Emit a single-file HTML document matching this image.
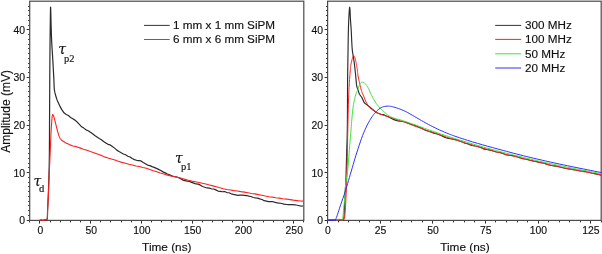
<!DOCTYPE html>
<html><head><meta charset="utf-8"><style>
html,body{margin:0;padding:0;background:#fff;}
body{width:602px;height:254px;overflow:hidden;}
svg{display:block;}
text{stroke:#111;stroke-width:0.15px;}
.tk{font-family:'Liberation Sans', Arial, sans-serif;font-size:10.4px;fill:#111;}
.ax{font-family:'Liberation Sans', Arial, sans-serif;font-size:11.8px;fill:#111;}
.ay{font-family:'Liberation Sans', Arial, sans-serif;font-size:12px;fill:#111;}
.lg{font-family:'Liberation Sans', Arial, sans-serif;font-size:11.7px;fill:#111;}
.tau{font-family:'DejaVu Serif','Liberation Serif', 'Times New Roman', serif;font-style:italic;font-size:14px;fill:#111;}
.sub{font-family:'Liberation Serif', 'Times New Roman', serif;font-size:10.5px;fill:#111;}
</style></head><body>
<svg width="602" height="254" viewBox="0 0 602 254">
<rect width="602" height="254" fill="#fff"/>
<g fill="none" stroke="#4a4a4a" stroke-width="1.2">
<rect x="29.7" y="1.2" width="274.1" height="219.20000000000002"/>
<rect x="327.6" y="1.2" width="273.6" height="219.20000000000002"/>
</g>
<path d="M29.20,220.50H26.70M29.20,215.50H28.10M29.20,210.50H28.10M29.20,205.50H28.10M29.20,201.50H28.10M29.20,196.50H28.10M29.20,191.50H28.10M29.20,186.50H28.10M29.20,182.50H28.10M29.20,177.50H28.10M29.20,172.50H26.70M29.20,167.50H28.10M29.20,163.50H28.10M29.20,158.50H28.10M29.20,153.50H28.10M29.20,148.50H28.10M29.20,144.50H28.10M29.20,139.50H28.10M29.20,134.50H28.10M29.20,129.50H28.10M29.20,125.50H26.70M29.20,120.50H28.10M29.20,115.50H28.10M29.20,110.50H28.10M29.20,105.50H28.10M29.20,101.50H28.10M29.20,96.50H28.10M29.20,91.50H28.10M29.20,86.50H28.10M29.20,82.50H28.10M29.20,77.50H26.70M29.20,72.50H28.10M29.20,67.50H28.10M29.20,63.50H28.10M29.20,58.50H28.10M29.20,53.50H28.10M29.20,48.50H28.10M29.20,44.50H28.10M29.20,39.50H28.10M29.20,34.50H28.10M29.20,29.50H26.70M29.20,25.50H28.10M29.20,20.50H28.10M29.20,15.50H28.10M29.20,10.50H28.10M29.20,6.50H28.10M327.10,220.50H324.60M327.10,215.50H326.00M327.10,210.50H326.00M327.10,205.50H326.00M327.10,201.50H326.00M327.10,196.50H326.00M327.10,191.50H326.00M327.10,186.50H326.00M327.10,182.50H326.00M327.10,177.50H326.00M327.10,172.50H324.60M327.10,167.50H326.00M327.10,163.50H326.00M327.10,158.50H326.00M327.10,153.50H326.00M327.10,148.50H326.00M327.10,144.50H326.00M327.10,139.50H326.00M327.10,134.50H326.00M327.10,129.50H326.00M327.10,125.50H324.60M327.10,120.50H326.00M327.10,115.50H326.00M327.10,110.50H326.00M327.10,105.50H326.00M327.10,101.50H326.00M327.10,96.50H326.00M327.10,91.50H326.00M327.10,86.50H326.00M327.10,82.50H326.00M327.10,77.50H324.60M327.10,72.50H326.00M327.10,67.50H326.00M327.10,63.50H326.00M327.10,58.50H326.00M327.10,53.50H326.00M327.10,48.50H326.00M327.10,44.50H326.00M327.10,39.50H326.00M327.10,34.50H326.00M327.10,29.50H324.60M327.10,25.50H326.00M327.10,20.50H326.00M327.10,15.50H326.00M327.10,10.50H326.00M327.10,6.50H326.00M29.50,220.90V222.40M39.50,220.90V223.60M50.50,220.90V222.40M60.50,220.90V222.40M70.50,220.90V222.40M80.50,220.90V222.40M90.50,220.90V223.60M100.50,220.90V222.40M110.50,220.90V222.40M121.50,220.90V222.40M131.50,220.90V222.40M141.50,220.90V223.60M151.50,220.90V222.40M161.50,220.90V222.40M171.50,220.90V222.40M181.50,220.90V222.40M192.50,220.90V223.60M202.50,220.90V222.40M212.50,220.90V222.40M222.50,220.90V222.40M232.50,220.90V222.40M242.50,220.90V223.60M253.50,220.90V222.40M263.50,220.90V222.40M273.50,220.90V222.40M283.50,220.90V222.40M293.50,220.90V223.60M303.50,220.90V222.40M327.50,220.90V223.60M338.50,220.90V222.40M348.50,220.90V222.40M359.50,220.90V222.40M369.50,220.90V222.40M380.50,220.90V223.60M390.50,220.90V222.40M401.50,220.90V222.40M411.50,220.90V222.40M422.50,220.90V222.40M432.50,220.90V223.60M443.50,220.90V222.40M453.50,220.90V222.40M464.50,220.90V222.40M474.50,220.90V222.40M485.50,220.90V223.60M495.50,220.90V222.40M506.50,220.90V222.40M517.50,220.90V222.40M527.50,220.90V222.40M538.50,220.90V223.60M548.50,220.90V222.40M559.50,220.90V222.40M569.50,220.90V222.40M580.50,220.90V222.40M590.50,220.90V223.60M601.50,220.90V222.40" fill="none" stroke="#333" stroke-width="1"/>
<g fill="none" stroke-linejoin="round" stroke-linecap="butt">
<path d="M39.70,220.40 39.91,220.35 40.12,220.28 40.33,220.22 40.54,220.17 40.77,220.13 41.00,220.10 41.31,220.10 41.63,220.14 41.96,220.20 42.31,220.26 42.65,220.30 43.00,220.30 43.38,220.25 43.78,220.17 44.19,220.06 44.58,219.95 44.96,219.86 45.30,219.80 45.53,219.79 45.75,219.81 45.96,219.84 46.16,219.86 46.34,219.85 46.50,219.80 46.63,219.72 46.74,219.63 46.84,219.52 46.93,219.38 47.02,219.21 47.10,219.00 47.30,218.10 47.41,216.82 47.47,215.26 47.50,213.54 47.54,211.75 47.60,210.00 47.72,207.72 47.84,205.28 47.96,202.74 48.08,200.14 48.19,197.54 48.30,195.00 48.40,192.50 48.49,190.00 48.57,187.50 48.65,185.00 48.72,182.50 48.80,180.00 48.87,177.50 48.95,175.00 49.02,172.50 49.09,170.00 49.15,167.50 49.20,165.00 49.25,162.58 49.28,160.27 49.32,157.95 49.35,155.53 49.37,152.92 49.40,150.00 49.44,144.50 49.48,138.26 49.51,131.48 49.53,124.38 49.56,117.15 49.60,110.00 49.64,101.84 49.69,93.28 49.74,84.55 49.79,75.93 49.84,67.66 49.90,60.00 49.94,54.51 49.99,49.29 50.04,44.27 50.09,39.42 50.14,34.68 50.20,30.00 50.26,25.46 50.32,20.40 50.38,15.43 50.45,11.15 50.52,8.14 50.60,7.00 50.67,7.94 50.75,10.39 50.84,13.85 50.92,17.79 51.01,21.68 51.10,25.00 51.18,27.55 51.25,30.02 51.32,32.45 51.39,34.89 51.49,37.39 51.60,40.00 51.76,43.17 51.95,46.45 52.16,49.82 52.38,53.23 52.60,56.63 52.80,60.00 53.00,63.42 53.20,66.96 53.39,70.49 53.58,73.92 53.75,77.12 53.90,80.00 53.97,81.73 54.02,83.36 54.05,84.88 54.10,86.32 54.18,87.69 54.30,89.00 54.42,89.94 54.55,90.81 54.70,91.63 54.87,92.45 55.07,93.30 55.30,94.20 55.64,95.43 56.03,96.73 56.46,98.07 56.92,99.42 57.40,100.72 59.60,105.60 61.80,109.65 64.00,112.84 66.20,114.46 68.40,115.56 70.60,117.44 72.80,118.78 75.00,120.13 77.20,122.07 79.40,124.45 81.60,126.84 83.80,128.10 86.00,129.84 88.20,130.73 90.40,132.24 92.60,133.79 94.80,135.51 97.00,137.06 99.20,138.40 101.40,139.66 103.60,141.43 105.80,142.90 108.00,144.33 110.20,144.93 112.40,146.56 114.60,148.13 116.80,150.12 119.00,151.46 121.20,152.78 123.40,153.96 125.60,154.76 127.80,156.19 130.00,157.00 132.20,158.53 134.40,159.62 136.60,160.30 138.80,160.57 141.00,160.92 143.20,162.53 145.40,163.70 147.60,165.10 149.80,165.59 152.00,166.64 154.20,167.39 156.40,168.37 158.60,169.38 160.80,170.49 163.00,171.88 165.20,172.85 167.40,173.97 169.60,174.75 171.80,175.85 174.00,176.50 176.20,176.79 178.40,177.55 180.60,178.64 182.80,180.08 185.00,180.63 187.20,181.19 189.40,181.38 191.60,182.40 193.80,183.09 196.00,183.97 198.20,184.13 200.40,185.16 202.60,186.53 204.80,187.29 207.00,187.95 209.20,188.12 211.40,188.80 213.60,188.98 215.80,189.88 218.00,191.06 220.20,191.38 222.40,191.76 224.60,191.54 226.80,192.57 229.00,192.73 231.20,193.83 233.40,194.41 235.60,194.92 237.80,195.38 240.00,195.18 242.20,195.22 244.40,195.31 246.60,195.54 248.80,196.13 251.00,196.47 253.20,197.48 255.40,197.96 257.60,198.15 259.80,198.87 262.00,199.47 264.20,200.71 266.40,201.16 268.60,201.64 270.80,201.63 273.00,201.71 275.20,202.32 277.40,202.82 279.60,203.21 281.80,203.53 284.00,204.16 286.20,204.42 288.40,204.54 290.60,204.62 292.80,204.65 295.00,204.78 297.20,205.25 299.40,205.74 301.60,206.20 303.00,205.99" stroke="#2a2a2a" stroke-width="1.2"/>
<path d="M39.70,220.40 39.92,220.33 40.13,220.24 40.34,220.16 40.56,220.08 40.78,220.03 41.00,220.00 41.24,220.01 41.49,220.06 41.74,220.13 41.99,220.21 42.25,220.27 42.50,220.30 42.75,220.30 43.00,220.27 43.26,220.24 43.51,220.19 43.76,220.15 44.00,220.10 44.22,220.05 44.44,219.99 44.66,219.93 44.87,219.87 45.08,219.83 45.30,219.80 45.52,219.81 45.76,219.85 45.99,219.90 46.22,219.94 46.42,219.94 46.60,219.90 46.73,219.82 46.85,219.71 46.95,219.58 47.04,219.42 47.12,219.23 47.20,219.00 47.38,218.08 47.47,216.79 47.51,215.24 47.53,213.52 47.55,211.74 47.60,210.00 47.72,207.75 47.85,205.36 47.99,202.87 48.13,200.30 48.27,197.67 48.40,195.00 48.54,191.86 48.67,188.63 48.80,185.32 48.93,181.94 49.06,178.50 49.20,175.00 49.37,170.99 49.55,166.87 49.73,162.67 49.92,158.44 50.11,154.20 50.30,150.00 50.49,145.71 50.66,141.27 50.84,136.82 51.04,132.53 51.25,128.54 51.50,125.00 51.66,122.77 51.81,120.46 51.98,118.27 52.17,116.42 52.40,115.13 52.70,114.60 52.87,114.66 53.05,114.89 53.24,115.23 53.44,115.64 53.63,116.08 53.80,116.50 54.02,117.11 54.22,117.79 54.41,118.52 54.59,119.30 54.78,120.13 55.00,121.00 55.35,122.40 55.73,123.96 56.14,125.62 56.55,127.31 56.98,128.96 57.40,130.50 57.76,131.79 58.11,133.08 58.47,134.34 58.84,135.53 59.25,136.63 59.70,137.60 60.05,138.19 60.41,138.73 60.79,139.22 61.18,139.67 61.58,140.09 62.00,140.50 62.38,140.83 65.88,143.01 69.38,144.62 72.88,145.93 76.38,146.66 79.88,147.87 83.38,149.21 86.88,150.29 90.38,151.57 93.88,152.66 97.38,154.01 100.88,155.35 104.38,156.86 107.88,158.03 111.38,159.03 114.88,159.99 118.38,161.26 121.88,162.38 125.38,163.28 128.88,164.24 132.38,164.97 135.88,165.96 139.38,166.57 142.88,167.50 146.38,168.33 149.88,169.46 153.38,170.75 156.88,171.83 160.38,173.00 163.88,174.01 167.38,175.10 170.88,176.05 174.38,176.79 177.88,177.58 181.38,178.33 184.88,179.36 188.38,180.29 191.88,181.09 195.38,181.78 198.88,182.49 202.38,183.21 205.88,184.05 209.38,184.98 212.88,185.90 216.38,186.80 219.88,187.67 223.38,188.71 226.88,189.48 230.38,190.04 233.88,190.66 237.38,191.02 240.88,191.63 244.38,192.15 247.88,192.79 251.38,193.45 254.88,193.85 258.38,194.64 261.88,195.33 265.38,196.08 268.88,196.71 272.38,197.11 275.88,197.68 279.38,198.11 282.88,198.69 286.38,199.08 289.88,199.61 293.38,200.16 296.88,200.59 300.38,200.96 303.00,201.17" stroke="#ff2020" stroke-width="1.1"/>
<path d="M327.60,220.20 328.85,220.17 330.12,220.14 331.39,220.12 332.64,220.09 333.85,220.05 335.00,220.00 335.90,219.94 336.78,219.87 337.63,219.79 338.45,219.72 339.24,219.65 340.00,219.60 340.62,219.60 341.26,219.64 341.88,219.69 342.45,219.71 342.93,219.66 343.30,219.50 343.47,219.33 343.58,219.13 343.65,218.90 343.70,218.64 343.74,218.34 343.80,218.00 343.93,217.07 344.03,215.90 344.10,214.56 344.16,213.09 344.23,211.55 344.30,210.00 344.41,207.76 344.53,205.31 344.64,202.73 344.75,200.09 344.87,197.49 345.00,195.00 345.13,192.83 345.26,190.77 345.40,188.74 345.54,186.65 345.68,184.43 345.80,182.00 345.96,178.05 346.10,173.69 346.23,169.05 346.35,164.29 346.48,159.55 346.60,155.00 346.73,150.88 346.85,146.91 346.98,142.98 347.10,138.93 347.21,134.65 347.30,130.00 347.39,122.40 347.45,113.77 347.49,104.67 347.51,95.63 347.55,87.23 347.60,80.00 347.64,76.19 347.69,72.82 347.74,69.69 347.79,66.63 347.84,63.46 347.90,60.00 347.97,55.23 348.04,50.07 348.12,44.73 348.20,39.46 348.29,34.47 348.40,30.00 348.48,27.15 348.57,24.44 348.66,21.87 348.76,19.45 348.87,17.16 349.00,15.00 349.10,13.37 349.22,11.63 349.34,9.96 349.46,8.55 349.58,7.57 349.70,7.20 349.84,7.87 349.97,9.63 350.11,12.10 350.24,14.90 350.37,17.66 350.50,20.00 350.62,21.70 350.73,23.30 350.85,24.86 350.96,26.46 351.08,28.15 351.20,30.00 351.37,33.05 351.52,36.54 351.68,40.21 351.86,43.83 352.06,47.18 352.30,50.00 352.46,51.39 352.64,52.61 352.83,53.74 353.02,54.82 353.21,55.92 353.40,57.10 353.61,58.50 353.82,59.95 354.03,61.43 354.23,62.90 354.42,64.33 354.60,65.70 354.74,66.81 354.86,67.88 354.97,68.92 355.08,69.95 355.19,70.97 355.30,72.00 355.40,73.01 355.51,74.00 355.61,75.00 355.70,75.99 355.80,76.99 355.90,78.00 356.00,79.08 356.09,80.19 356.18,81.30 356.27,82.40 356.38,83.44 356.50,84.40 356.60,85.07 356.71,85.69 356.82,86.29 356.94,86.87 357.06,87.43 359.46,94.22 361.86,97.47 364.26,102.81 366.66,104.67 369.06,106.57 371.46,108.43 373.86,110.54 376.26,112.47 378.66,113.49 381.06,114.25 383.46,114.57 385.86,115.75 388.26,116.85 390.66,118.08 393.06,119.36 395.46,120.11 397.86,120.92 400.26,121.25 402.66,121.52 405.06,121.99 407.46,122.85 409.86,123.70 412.26,124.70 414.66,125.40 417.06,126.26 419.46,127.31 421.86,128.31 424.26,129.70 426.66,130.59 429.06,131.56 431.46,132.17 433.86,133.09 436.26,133.79 438.66,134.46 441.06,135.48 443.46,136.62 445.86,137.77 448.26,138.37 450.66,138.71 453.06,139.08 455.46,139.57 457.86,140.17 460.26,141.26 462.66,142.06 465.06,143.29 467.46,143.77 469.86,144.85 472.26,145.56 474.66,146.02 477.06,146.24 479.46,146.97 481.86,147.95 484.26,149.13 486.66,149.47 489.06,149.88 491.46,150.31 493.86,151.21 496.26,151.98 498.66,152.28 501.06,152.63 503.46,153.70 505.86,154.75 508.26,155.23 510.66,155.39 513.06,155.57 515.46,156.13 517.86,157.08 520.26,157.72 522.66,158.62 525.06,158.98 527.46,159.56 529.86,160.23 532.26,160.59 534.66,161.44 537.06,161.60 539.46,162.33 541.86,162.59 544.26,163.23 546.66,164.11 549.06,165.01 551.46,165.56 553.86,166.02 556.26,166.15 558.66,166.71 561.06,167.20 563.46,167.97 565.86,168.27 568.26,168.85 570.66,169.06 573.06,169.64 575.46,169.97 577.86,170.51 580.26,171.00 582.66,171.01 585.06,171.31 587.46,171.94 589.86,172.49 592.26,173.26 594.66,173.57 597.06,174.14 599.46,174.81 601.00,175.31" stroke="#2a2a2a" stroke-width="1.15"/>
<path d="M327.60,219.60 328.34,219.58 329.07,219.55 329.81,219.52 330.55,219.49 331.28,219.49 332.00,219.50 332.68,219.54 333.35,219.62 334.01,219.70 334.67,219.79 335.34,219.86 336.00,219.90 336.67,219.91 337.33,219.91 338.00,219.89 338.67,219.86 339.33,219.83 340.00,219.80 340.71,219.80 341.47,219.84 342.23,219.88 342.94,219.87 343.55,219.79 344.00,219.60 344.19,219.42 344.32,219.20 344.41,218.96 344.47,218.67 344.53,218.36 344.60,218.00 344.77,217.05 344.90,215.89 345.01,214.54 345.10,213.08 345.20,211.55 345.30,210.00 345.45,207.76 345.59,205.31 345.72,202.73 345.85,200.09 345.98,197.49 346.10,195.00 346.21,192.88 346.31,190.92 346.41,188.98 346.51,186.94 346.60,184.66 346.70,182.00 346.89,175.18 347.08,166.71 347.27,157.28 347.45,147.56 347.63,138.25 347.80,130.00 347.92,124.41 348.03,119.01 348.14,113.84 348.25,108.93 348.37,104.31 348.50,100.00 348.60,97.20 348.71,94.62 348.81,92.18 348.93,89.81 349.06,87.44 349.20,85.00 349.37,82.39 349.55,79.66 349.75,76.93 349.95,74.33 350.14,71.97 350.30,70.00 350.37,69.14 350.42,68.39 350.47,67.72 350.53,67.07 350.60,66.41 350.70,65.70 350.85,64.80 351.04,63.86 351.25,62.89 351.47,61.94 351.69,61.04 351.90,60.20 352.04,59.60 352.18,59.01 352.31,58.45 352.46,57.92 352.61,57.43 352.80,57.00 352.95,56.71 353.12,56.41 353.29,56.13 353.47,55.90 353.64,55.75 353.80,55.70 353.94,55.77 354.08,55.93 354.22,56.16 354.35,56.44 354.48,56.73 354.60,57.00 354.75,57.34 354.89,57.69 355.02,58.07 355.15,58.48 355.27,58.92 355.40,59.40 355.61,60.29 355.82,61.32 356.02,62.43 356.22,63.58 356.42,64.68 356.60,65.70 356.75,66.46 356.89,67.18 357.03,67.88 357.16,68.57 357.29,69.27 357.40,70.00 357.50,70.80 357.57,71.62 357.64,72.44 357.70,73.28 357.79,74.13 357.90,75.00 358.07,76.00 358.26,77.01 358.47,78.04 358.71,79.10 358.95,80.18 359.20,81.30 359.51,82.72 359.83,84.23 360.17,85.78 360.52,87.33 360.90,88.82 361.30,90.20 361.65,91.25 362.03,92.24 362.41,93.19 362.81,94.12 363.21,95.05 363.60,96.00 363.99,96.98 364.37,97.97 364.75,98.96 365.15,99.94 366.75,103.26 368.35,105.82 369.95,107.63 371.55,109.11 373.15,110.20 374.75,111.23 376.35,112.19 377.95,113.12 379.55,113.94 381.15,114.50 382.75,115.08 384.35,115.50 385.95,116.05 387.55,116.54 389.15,117.01 390.75,117.45 392.35,117.90 393.95,118.54 395.55,119.12 397.15,119.61 398.75,120.12 400.35,120.56 401.95,121.20 403.55,121.68 405.15,122.26 406.75,122.91 408.35,123.54 409.95,124.18 411.55,124.79 413.15,125.49 414.75,126.09 416.35,126.67 417.95,127.20 419.55,127.85 421.15,128.31 422.75,128.95 424.35,129.53 425.95,130.22 427.55,130.78 429.15,131.28 430.75,131.74 432.35,132.18 433.95,132.70 435.55,133.20 437.15,133.76 438.75,134.38 440.35,134.90 441.95,135.50 443.55,135.98 445.15,136.56 446.75,137.10 448.35,137.65 449.95,138.17 451.55,138.63 453.15,139.17 454.75,139.64 456.35,140.22 457.95,140.61 459.55,141.22 461.15,141.69 462.75,142.18 464.35,142.67 465.95,143.08 467.55,143.65 469.15,144.01 470.75,144.43 472.35,144.84 473.95,145.46 475.55,145.96 477.15,146.51 478.75,146.97 480.35,147.55 481.95,147.94 483.55,148.30 485.15,148.68 486.75,149.20 488.35,149.60 489.95,150.08 491.55,150.52 493.15,151.08 494.75,151.40 496.35,151.85 497.95,152.16 499.55,152.63 501.15,153.00 502.75,153.55 504.35,153.97 505.95,154.43 507.55,154.79 509.15,155.19 510.75,155.50 512.35,155.85 513.95,156.21 515.55,156.58 517.15,157.06 518.75,157.60 520.35,158.00 521.95,158.28 523.55,158.67 525.15,159.11 526.75,159.55 528.35,159.81 529.95,160.20 531.55,160.64 533.15,161.05 534.75,161.39 536.35,161.64 537.95,162.07 539.55,162.38 541.15,162.81 542.75,163.15 544.35,163.53 545.95,163.92 547.55,164.29 549.15,164.72 550.75,165.08 552.35,165.29 553.95,165.60 555.55,165.84 557.15,166.29 558.75,166.61 560.35,166.99 561.95,167.35 563.55,167.77 565.15,168.18 566.75,168.42 568.35,168.69 569.95,168.97 571.55,169.29 573.15,169.58 574.75,169.85 576.35,170.11 577.95,170.43 579.55,170.84 581.15,171.27 582.75,171.62 584.35,171.84 585.95,172.04 587.55,172.25 589.15,172.51 590.75,172.88 592.35,173.30 593.95,173.60 595.55,173.90 597.15,174.17 598.75,174.52 600.35,174.80 601.00,174.90" stroke="#ff2020" stroke-width="1"/>
<path d="M336.00,220.00 336.34,219.93 336.68,219.87 337.02,219.80 337.36,219.74 337.68,219.67 338.00,219.60 338.26,219.53 338.52,219.44 338.77,219.35 339.01,219.27 339.25,219.22 339.50,219.20 339.75,219.24 340.00,219.31 340.25,219.42 340.50,219.53 340.75,219.63 341.00,219.70 341.24,219.76 341.49,219.83 341.75,219.89 341.99,219.92 342.21,219.90 342.40,219.80 342.66,219.41 342.81,218.78 342.90,217.97 342.95,217.04 343.01,216.03 343.10,215.00 343.32,213.00 343.56,210.67 343.79,208.11 344.03,205.41 344.27,202.68 344.50,200.00 344.73,197.05 344.94,193.99 345.15,190.87 345.37,187.79 345.62,184.81 345.90,182.00 346.17,179.91 346.47,177.97 346.78,176.11 347.10,174.22 347.41,172.22 347.70,170.00 348.08,166.37 348.43,162.30 348.77,158.00 349.09,153.65 349.40,149.45 349.70,145.60 349.94,142.76 350.17,140.01 350.39,137.37 350.60,134.82 350.81,132.36 351.00,130.00 351.14,128.22 351.27,126.54 351.40,124.93 351.52,123.33 351.65,121.70 351.80,120.00 351.97,118.00 352.14,115.93 352.32,113.82 352.52,111.72 352.74,109.66 353.00,107.70 353.26,106.03 353.54,104.38 353.83,102.78 354.15,101.22 354.47,99.72 354.80,98.30 355.07,97.20 355.34,96.12 355.63,95.09 355.91,94.11 356.21,93.21 356.50,92.40 356.70,91.94 356.89,91.55 357.09,91.19 357.29,90.83 357.49,90.45 357.70,90.00 358.00,89.19 358.30,88.24 358.61,87.23 358.93,86.22 359.29,85.29 359.70,84.50 360.03,83.97 360.39,83.45 360.76,82.96 361.15,82.56 361.56,82.26 362.00,82.10 362.49,82.11 363.03,82.27 363.59,82.54 364.16,82.89 364.70,83.29 365.20,83.70 365.72,84.19 366.21,84.76 366.67,85.38 367.12,86.05 367.56,86.76 368.00,87.50 368.55,88.53 369.07,89.65 369.59,90.84 370.10,92.06 370.63,93.30 371.20,94.50 371.84,95.78 372.50,97.10 373.19,98.42 373.89,99.72 374.59,100.95 375.30,102.10 375.88,102.97 376.46,103.78 377.04,104.56 377.63,105.31 378.25,106.05 378.90,106.80 379.62,107.60 380.37,108.40 381.14,109.19 381.94,109.96 382.76,110.74 383.60,111.50 384.52,112.33 385.48,113.17 386.46,114.01 387.46,114.81 388.47,115.55 389.50,116.20 390.46,116.72 391.46,117.18 392.46,117.58 393.46,117.95 394.45,118.28 395.40,118.60 396.17,118.84 396.89,119.03 397.60,119.19 398.34,119.36 399.12,119.56 400.00,119.80 401.60,120.29 403.39,120.86 405.32,121.49 407.35,122.18 409.42,122.88 411.50,123.60 413.98,124.48 416.55,125.41 419.20,126.39 421.87,127.37 424.55,128.35 427.20,129.30 429.82,130.22 432.44,131.12 435.05,132.02 437.68,132.91 440.33,133.80 443.00,134.69 445.78,135.60 448.56,136.51 451.37,137.41 454.20,138.32 457.08,139.22 460.00,140.13 463.24,141.12 466.54,142.12 469.89,143.13 473.27,144.13 476.64,145.11 480.00,146.08 483.33,147.03 486.66,147.96 489.99,148.88 493.33,149.79 496.66,150.69 500.00,151.58 503.33,152.46 506.66,153.32 509.99,154.17 513.33,155.01 516.66,155.85 520.00,156.67 523.33,157.48 526.66,158.28 529.99,159.06 533.33,159.84 536.66,160.61 540.00,161.37 543.33,162.12 546.66,162.86 550.00,163.58 553.33,164.30 556.66,165.01 560.00,165.72 563.33,166.41 566.65,167.09 569.97,167.76 573.29,168.42 576.64,169.08 580.00,169.73 583.47,170.40 586.96,171.05 590.47,171.69 593.98,172.34 597.49,172.98 601.00,173.63" stroke="#3ae63a" stroke-width="1"/>
<path d="M327.60,220.30 328.53,220.31 329.49,220.33 330.45,220.35 331.38,220.36 332.24,220.34 333.00,220.30 333.44,220.27 333.84,220.25 334.22,220.23 334.58,220.18 334.90,220.07 335.20,219.90 335.49,219.62 335.72,219.27 335.91,218.86 336.09,218.39 336.28,217.87 336.50,217.30 337.00,215.99 337.54,214.42 338.12,212.65 338.72,210.75 339.35,208.77 340.00,206.80 340.87,204.24 341.81,201.53 342.79,198.72 343.78,195.83 344.76,192.91 345.70,190.00 346.66,186.91 347.60,183.76 348.52,180.58 349.44,177.38 350.37,174.18 351.30,171.00 352.23,167.83 353.16,164.67 354.08,161.51 355.03,158.34 355.99,155.17 357.00,152.00 358.07,148.70 359.17,145.32 360.30,141.94 361.45,138.63 362.62,135.46 363.80,132.50 364.76,130.27 365.73,128.12 366.71,126.07 367.70,124.11 368.70,122.25 369.70,120.50 370.49,119.19 371.26,117.95 372.04,116.78 372.84,115.66 373.69,114.57 374.60,113.50 375.59,112.39 376.63,111.28 377.72,110.19 378.84,109.19 380.01,108.31 381.20,107.60 382.32,107.11 383.49,106.72 384.70,106.44 385.91,106.25 387.12,106.14 388.30,106.10 389.41,106.14 390.50,106.27 391.58,106.48 392.68,106.74 393.81,107.06 395.00,107.40 396.64,107.91 398.38,108.50 400.18,109.18 402.01,109.91 403.83,110.69 405.60,111.50 407.39,112.40 409.16,113.37 410.92,114.38 412.68,115.43 414.44,116.48 416.20,117.50 417.98,118.52 419.76,119.55 421.54,120.58 423.33,121.61 425.11,122.62 426.90,123.60 428.66,124.54 430.42,125.47 432.19,126.38 433.95,127.28 435.72,128.15 437.50,129.00 439.28,129.83 441.10,130.64 442.93,131.44 444.72,132.20 446.46,132.93 448.10,133.60 449.30,134.08 450.40,134.51 451.47,134.92 452.55,135.32 453.71,135.74 455.00,136.20 457.16,136.95 459.57,137.75 462.13,138.60 464.78,139.45 467.43,140.30 470.00,141.10 472.50,141.86 474.99,142.61 477.49,143.35 479.99,144.07 482.50,144.79 485.00,145.50 487.47,146.19 489.92,146.87 492.36,147.54 494.84,148.21 497.37,148.89 500.00,149.60 503.17,150.45 506.45,151.34 509.82,152.24 513.22,153.15 516.63,154.04 520.00,154.90 523.36,155.74 526.74,156.57 530.13,157.38 533.49,158.18 536.79,158.95 540.00,159.70 542.73,160.33 545.34,160.93 547.91,161.51 550.49,162.09 553.16,162.68 556.00,163.30 559.73,164.10 563.69,164.94 567.79,165.79 571.93,166.65 576.03,167.49 580.00,168.30 583.61,169.03 587.16,169.74 590.68,170.43 594.18,171.12 597.68,171.81 601.20,172.50" stroke="#3030ff" stroke-width="1"/>
</g>
<text x="25.10" y="224.10" text-anchor="end" class="tk">0</text>
<text x="25.10" y="176.50" text-anchor="end" class="tk">10</text>
<text x="25.10" y="128.90" text-anchor="end" class="tk">20</text>
<text x="25.10" y="81.30" text-anchor="end" class="tk">30</text>
<text x="25.10" y="33.70" text-anchor="end" class="tk">40</text>
<text x="323.00" y="224.10" text-anchor="end" class="tk">0</text>
<text x="323.00" y="176.50" text-anchor="end" class="tk">10</text>
<text x="323.00" y="128.90" text-anchor="end" class="tk">20</text>
<text x="323.00" y="81.30" text-anchor="end" class="tk">30</text>
<text x="323.00" y="33.70" text-anchor="end" class="tk">40</text>
<text x="40.45" y="234" text-anchor="middle" class="tk">0</text>
<text x="91.21" y="234" text-anchor="middle" class="tk">50</text>
<text x="141.97" y="234" text-anchor="middle" class="tk">100</text>
<text x="192.73" y="234" text-anchor="middle" class="tk">150</text>
<text x="243.49" y="234" text-anchor="middle" class="tk">200</text>
<text x="294.25" y="234" text-anchor="middle" class="tk">250</text>
<text x="327.90" y="234" text-anchor="middle" class="tk">0</text>
<text x="380.52" y="234" text-anchor="middle" class="tk">25</text>
<text x="433.13" y="234" text-anchor="middle" class="tk">50</text>
<text x="485.75" y="234" text-anchor="middle" class="tk">75</text>
<text x="538.36" y="234" text-anchor="middle" class="tk">100</text>
<text x="590.98" y="234" text-anchor="middle" class="tk">125</text>
<text x="166.8" y="250.7" text-anchor="middle" class="ax">Time (ns)</text>
<text x="464.9" y="250.7" text-anchor="middle" class="ax">Time (ns)</text>
<text transform="translate(9.6,111.4) rotate(-90)" text-anchor="middle" class="ay">Amplitude (mV)</text>
<!-- legends -->
<g stroke-width="1">
<line x1="144" y1="25.4" x2="169.7" y2="25.4" stroke="#333"/>
<line x1="144" y1="39.5" x2="169.7" y2="39.5" stroke="#ff2020"/>
<line x1="495.2" y1="25.4" x2="521.2" y2="25.4" stroke="#333"/>
<line x1="495.2" y1="39.4" x2="521.2" y2="39.4" stroke="#ff2020"/>
<line x1="495.2" y1="53.8" x2="521.2" y2="53.8" stroke="#3ae63a"/>
<line x1="495.2" y1="68" x2="521.2" y2="68" stroke="#3030ff"/>
</g>
<text x="173.1" y="29.3" class="lg">1 mm x 1 mm SiPM</text>
<text x="173.1" y="43" class="lg">6 mm x 6 mm SiPM</text>
<text x="525" y="29.1" class="lg">300 MHz</text>
<text x="525" y="42.8" class="lg">100 MHz</text>
<text x="525" y="57.7" class="lg">50 MHz</text>
<text x="525" y="72.3" class="lg">20 MHz</text>
<!-- tau labels -->
<text x="58.2" y="53.9" class="tau">τ</text><text x="63.9" y="61.9" class="sub">p2</text>
<text x="175" y="163" class="tau">τ</text><text x="180.9" y="170" class="sub">p1</text>
<text x="33.4" y="185.8" class="tau">τ</text><text x="38.9" y="192.4" class="sub">d</text>
</svg>
</body></html>
